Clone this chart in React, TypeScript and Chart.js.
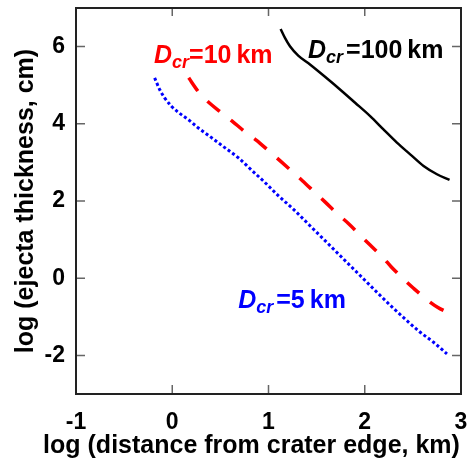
import { useEffect, useRef } from 'react';
import { Chart, registerables } from 'chart.js';

Chart.register(...registerables);

// Axis ticks
const xTicks = [-1, 0, 1, 2, 3];
const yTicks = [-2, 0, 2, 4, 6];

// Axis titles
const xTitle = 'log (distance from crater edge, km)';
const yTitle = 'log (ejecta thickness, cm)';

// D_cr = 100 km (solid black)
const d100X = [1.126, 1.171, 1.223, 1.309, 1.431, 1.587, 1.743, 1.9, 2.056, 2.194, 2.334, 2.472, 2.611, 2.75, 2.881];
const d100Y = [6.457, 6.225, 6.008, 5.767, 5.535, 5.217, 4.889, 4.545, 4.199, 3.855, 3.512, 3.209, 2.907, 2.693, 2.545];

// D_cr = 10 km (dashed red)
const d10X = [0.171, 0.268, 0.372, 0.504, 0.622, 0.754, 0.876, 1.004, 1.119, 1.251, 1.355, 1.483, 1.587, 1.719, 1.83, 1.952, 2.056, 2.188, 2.274, 2.402, 2.507, 2.646, 2.756, 2.917];
const d10Y = [5.19, 4.845, 4.571, 4.302, 4.07, 3.796, 3.571, 3.295, 3.045, 2.752, 2.519, 2.219, 1.977, 1.659, 1.419, 1.116, 0.858, 0.54, 0.297, -0.021, -0.261, -0.556, -0.752, -0.951];

// D_cr = 5 km (dotted blue)
const d5X = [-0.183, -0.131, -0.079, -0.009, 0.06, 0.164, 0.268, 0.408, 0.546, 0.685, 0.824, 0.963, 1.101, 1.257, 1.431, 1.605, 1.778, 1.952, 2.125, 2.298, 2.438, 2.576, 2.715, 2.854];
const d5Y = [5.19, 4.889, 4.674, 4.457, 4.302, 4.114, 3.899, 3.641, 3.382, 3.124, 2.8, 2.48, 2.14, 1.79, 1.36, 0.93, 0.5, 0.07, -0.36, -0.78, -1.1, -1.4, -1.66, -1.96];

// Curve labels (anchor in data coordinates)
const labelValues = ['100', '10', '5'];
const labelColors = ['#000000', '#ff0000', '#0000ff'];
const labelAnchorX = [1.41, -0.19, 0.685];
const labelAnchorY = [5.71, 5.58, -0.78];
const labelGap = [3, 0, 3];

const FONT = '"Liberation Sans", Arial, sans-serif';

const toPts = (xs: number[], ys: number[]) => xs.map((x, i) => ({ x, y: ys[i] }));

const framePlugin = {
  id: 'frameTicks',
  afterDatasetsDraw(chart: any) {
    const { ctx, chartArea: a, scales } = chart;
    const sx = scales.x;
    const sy = scales.y;
    ctx.save();
    ctx.strokeStyle = '#666666';
    ctx.lineWidth = 1.5;
    ctx.beginPath();
    for (const v of xTicks) {
      const px = sx.getPixelForValue(v);
      ctx.moveTo(px, a.bottom);
      ctx.lineTo(px, a.bottom - 9);
      ctx.moveTo(px, a.top);
      ctx.lineTo(px, a.top + 8);
    }
    for (const v of yTicks) {
      const py = sy.getPixelForValue(v);
      ctx.moveTo(a.left, py);
      ctx.lineTo(a.left + 9, py);
      ctx.moveTo(a.right, py);
      ctx.lineTo(a.right - 9, py);
    }
    ctx.stroke();
    ctx.strokeStyle = '#222222';
    ctx.lineWidth = 2;
    ctx.strokeRect(a.left, a.top, a.right - a.left, a.bottom - a.top);

    // x axis title (wider than the plot, so drawn without squeezing)
    ctx.fillStyle = '#000000';
    ctx.font = `bold 25px ${FONT}`;
    ctx.textAlign = 'center';
    ctx.textBaseline = 'alphabetic';
    ctx.fillText(xTitle, (a.left + a.right) / 2 - 17, a.bottom + 59);

    // curve labels
    ctx.textAlign = 'left';
    labelValues.forEach((val, i) => {
      let cx = sx.getPixelForValue(labelAnchorX[i]);
      const cy = sy.getPixelForValue(labelAnchorY[i]);
      ctx.fillStyle = labelColors[i];
      ctx.font = `italic bold 25px ${FONT}`;
      ctx.fillText('D', cx, cy);
      cx += ctx.measureText('D').width;
      ctx.font = `italic bold 18px ${FONT}`;
      ctx.fillText('cr', cx, cy + 5);
      cx += ctx.measureText('cr').width + labelGap[i];
      ctx.font = `bold 25px ${FONT}`;
      const s = '=' + val;
      ctx.fillText(s, cx, cy);
      cx += ctx.measureText(s).width + 5;
      ctx.fillText('km', cx, cy);
    });
    ctx.restore();
  },
};

export default function App() {
  const ref = useRef<HTMLCanvasElement | null>(null);
  useEffect(() => {
    document.body.style.margin = '0';
    if (!ref.current) return;
    const chart = new Chart(ref.current, {
      type: 'scatter',
      data: {
        datasets: [
          {
            data: toPts(d100X, d100Y),
            showLine: true,
            borderColor: '#000000',
            borderWidth: 2.5,
            pointRadius: 0,
            cubicInterpolationMode: 'monotone',
            fill: false,
          },
          {
            data: toPts(d10X, d10Y),
            showLine: true,
            borderColor: '#ff0000',
            borderWidth: 3.5,
            borderDash: [16, 14],
            pointRadius: 0,
            cubicInterpolationMode: 'monotone',
            fill: false,
          },
          {
            data: toPts(d5X, d5Y),
            showLine: true,
            borderColor: '#0000ff',
            borderWidth: 3,
            borderDash: [3, 2.5],
            pointRadius: 0,
            cubicInterpolationMode: 'monotone',
            fill: false,
          },
        ] as any,
      },
      options: {
        animation: false,
        responsive: false,
        devicePixelRatio: 1,
        layout: { padding: { top: 8, right: 10, left: 0, bottom: 0 } },
        plugins: { legend: { display: false }, tooltip: { enabled: false } },
        scales: {
          x: {
            type: 'linear',
            min: -1,
            max: 3,
            afterBuildTicks: (s: any) => {
              s.ticks = xTicks.map((v) => ({ value: v }));
            },
            afterFit: (s: any) => {
              s.height = 66;
              s.paddingLeft = 0;
              s.paddingRight = 0;
              s.paddingTop = 0;
              s.paddingBottom = 0;
            },
            grid: { display: false, drawTicks: false },
            border: { display: false },
            ticks: {
              color: '#000000',
              font: { family: FONT, size: 23, weight: 'bold' },
              padding: 15,
              maxRotation: 0,
              autoSkip: false,
            },
            title: { display: false },
          },
          y: {
            type: 'linear',
            min: -3,
            max: 7,
            afterBuildTicks: (s: any) => {
              s.ticks = yTicks.map((v) => ({ value: v }));
            },
            afterFit: (s: any) => {
              s.width = 76;
              s.paddingLeft = 0;
              s.paddingRight = 0;
              s.paddingTop = 0;
              s.paddingBottom = 0;
            },
            grid: { display: false, drawTicks: false },
            border: { display: false },
            ticks: {
              color: '#000000',
              font: { family: FONT, size: 23, weight: 'bold' },
              padding: 11,
              autoSkip: false,
            },
            title: {
              display: true,
              text: yTitle,
              color: '#000000',
              font: { family: FONT, size: 25, weight: 'bold' },
              padding: { top: 11, bottom: 0 },
            },
          },
        },
      } as any,
      plugins: [framePlugin],
    });
    return () => chart.destroy();
  }, []);
  return (
    <div style={{ width: 471, height: 460 }}>
      <canvas ref={ref} width={471} height={460} style={{ display: 'block' }} />
    </div>
  );
}
